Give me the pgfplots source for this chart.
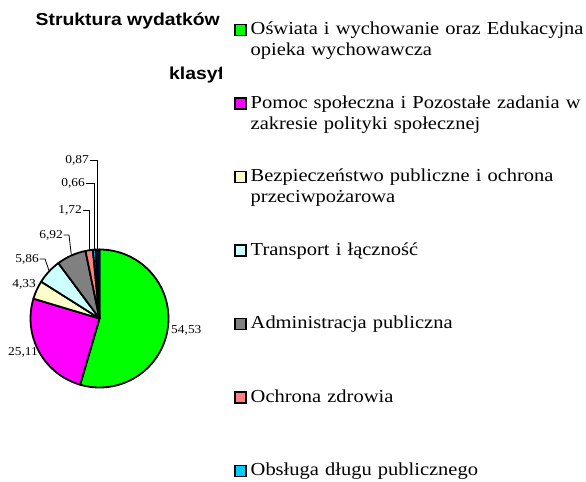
\documentclass[border=0pt]{standalone}
\usepackage{pgfplots}
\pgfplotsset{compat=1.18}
\usepackage{pgfplotstable}
\usepackage{fontspec}
\setmainfont{Liberation Serif}[FakeStretch=1.12]
\newfontfamily\titlefont{Liberation Sans}[FakeStretch=1.12]

\definecolor{cGreen}{HTML}{00FF00}
\definecolor{cMag}{HTML}{FF00FF}
\definecolor{cYel}{HTML}{FFFFCC}
\definecolor{cCyan}{HTML}{CCFFFF}
\definecolor{cGray}{HTML}{808080}
\definecolor{cSalmon}{HTML}{FF8080}
\definecolor{cBlue}{HTML}{00CCFF}
\definecolor{cNavy}{HTML}{000080}

\pgfplotstableread{
val   col
54.53 cGreen
25.11 cMag
4.33  cYel
5.86  cCyan
6.92  cGray
1.72  cSalmon
0.66  cBlue
0.87  cNavy
}\piedata

\pgfplotsset{
  sq/.style={legend image code/.code={\draw[fill=#1,draw=black,line width=1.5bp] (0bp,-1bp) rectangle (11bp,10bp);}},
}
\tikzset{lbl/.style={font=\fontsize{12bp}{14bp}\selectfont, inner sep=0pt}}

\begin{document}
\begin{tikzpicture}
\node[anchor=base west, inner sep=0pt, font=\titlefont\bfseries\fontsize{17.3bp}{20bp}\selectfont] at (35.5bp,456bp) {Struktura wydatków};
\node[anchor=base west, inner sep=0pt, font=\titlefont\bfseries\fontsize{17.3bp}{20bp}\selectfont] at (169bp,402bp) {klasyfikacji};
\begin{axis}[
  at={(0,0)}, anchor=south west, scale only axis,
  width=586bp, height=482bp,
  xmin=0, xmax=586, ymin=0, ymax=482, y dir=reverse,
  hide axis, clip=false,
  legend style={at={(axis cs:222,6.5)}, anchor=north west, fill=white, draw=none,
    inner xsep=12bp, inner ysep=14bp, row sep=0pt, column sep=2bp,
    cells={anchor=base west},
    nodes={inner xsep=2bp, inner ysep=0pt, text width=360bp, align=left,
      text height=14bp, text depth=59.5bp,
      font=\fontsize{18.3bp}{21bp}\selectfont}},
]
\xdef\cum{0}
\pgfplotsinvokeforeach{0,...,7}{
  \pgfplotstablegetelem{#1}{val}\of\piedata
  \let\sliceval\pgfplotsretval
  \pgfplotstablegetelem{#1}{col}\of\piedata
  \let\slicecol\pgfplotsretval
  \pgfmathsetmacro\sa{90-3.6*\cum}
  \pgfmathsetmacro\ea{90-3.6*(\cum+\sliceval)}
  \edef\temp{\noexpand\filldraw[fill=\slicecol, draw=black, line width=1.8bp, line join=round] (axis cs:99.5,318.5) -- +(\sa:69bp) arc[start angle=\sa, end angle=\ea, radius=69bp] -- cycle;}
  \temp
  \pgfmathsetmacro\newcum{\cum+\sliceval}
  \xdef\cum{\newcum}
}
% data labels
\node[lbl, anchor=west] at (axis cs:171,330) {54,53};
\node[lbl, anchor=east] at (axis cs:38,352) {25,11};
\node[lbl, anchor=east] at (axis cs:36,284) {4,33};
\node[lbl, anchor=east] at (axis cs:39,259) {5,86};
\node[lbl, anchor=east] at (axis cs:63,235) {6,92};
\node[lbl, anchor=east] at (axis cs:82,210) {1,72};
\node[lbl, anchor=east] at (axis cs:85,183) {0,66};
\node[lbl, anchor=east] at (axis cs:89,160) {0,87};
% leader lines
\draw[line width=0.8bp] (axis cs:39.5,259) -- (axis cs:45,259) -- (axis cs:49,270.5);
\draw[line width=0.8bp] (axis cs:63.5,235) -- (axis cs:69,235) -- (axis cs:71.3,254.5);
\draw[line width=0.8bp] (axis cs:82.5,210) -- (axis cs:89.2,210) -- (axis cs:89.2,250);
\draw[line width=0.8bp] (axis cs:85.5,183) -- (axis cs:94.3,183) -- (axis cs:94.3,249.5);
\draw[line width=0.8bp] (axis cs:89.5,160) -- (axis cs:97.6,160) -- (axis cs:97.6,249.5);
% legend
\addlegendimage{sq=cGreen}
\addlegendentry{{Oświata i wychowanie oraz Edukacyjna\\opieka wychowawcza}}
\addlegendimage{sq=cMag}
\addlegendentry{{Pomoc społeczna i Pozostałe zadania w\\zakresie polityki społecznej}}
\addlegendimage{sq=cYel}
\addlegendentry{{Bezpieczeństwo publiczne i ochrona\\przeciwpożarowa}}
\addlegendimage{sq=cCyan}
\addlegendentry{Transport i łączność}
\addlegendimage{sq=cGray}
\addlegendentry{Administracja publiczna}
\addlegendimage{sq=cSalmon}
\addlegendentry{Ochrona zdrowia}
\addlegendimage{sq=cBlue}
\addlegendentry{Obsługa długu publicznego}
\end{axis}
\pgfresetboundingbox
\path[use as bounding box] (0,0) rectangle (586bp,482bp);
\end{tikzpicture}
\end{document}
